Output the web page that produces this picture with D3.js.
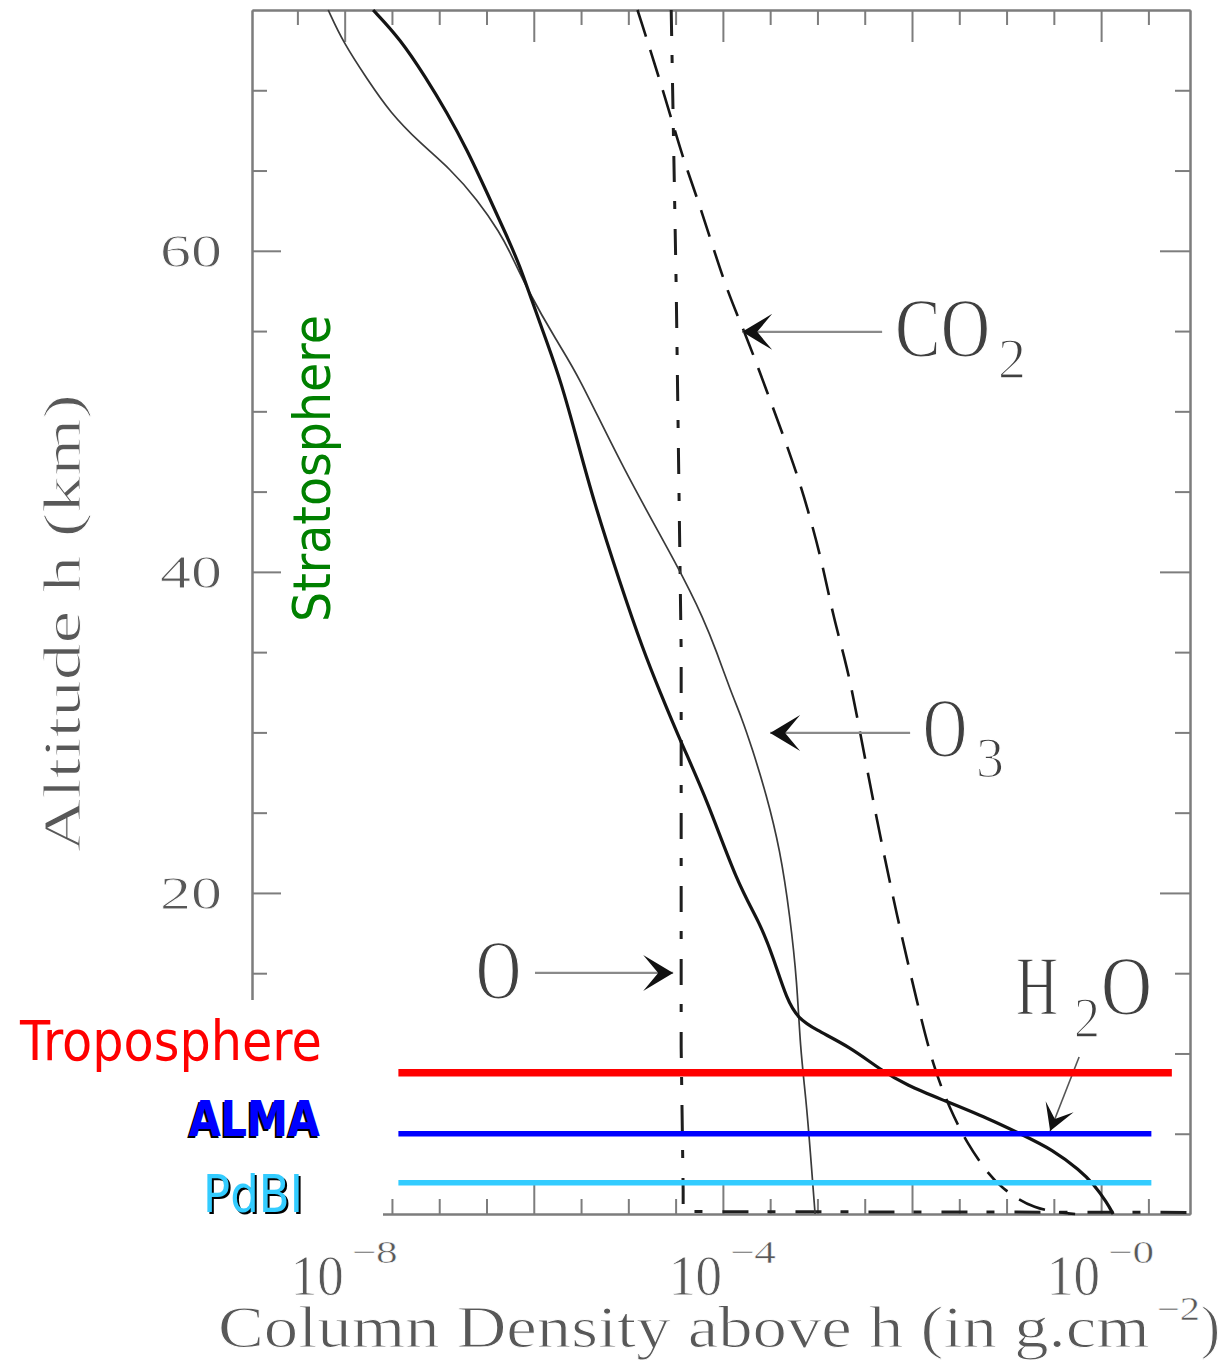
<!DOCTYPE html>
<html>
<head>
<meta charset="utf-8">
<script src="https://cdn.jsdelivr.net/npm/d3@7"></script>
<style>
  html, body { margin: 0; padding: 0; background: #ffffff; }
  svg { display: block; }
</style>
</head>
<body>
<svg id="chart" width="1224" height="1364"></svg>
<script>
// ---------------- DATA (altitude in km, column density above h in g.cm^-2) ----------------
const altH2O = [75.0, 73.2, 70.8, 68.6, 66.3, 63.6, 60.9, 59.0, 57.0, 54.3, 51.8, 48.2, 44.5, 39.3, 35.1, 32.5, 29.5, 25.8, 20.6, 18.1, 16.0, 13.3, 12.2, 11.5, 10.4, 9.0, 8.0, 7.1, 5.9, 5.0, 4.0, 2.7, 1.9, 0.7, 0];
const colH2O = [2.0e-8, 3.86e-8, 7.2e-8, 1.21e-7, 1.97e-7, 3.21e-7, 5.22e-7, 7.18e-7, 9.4e-7, 1.38e-6, 1.95e-6, 2.88e-6, 4.25e-6, 8.18e-6, 1.44e-5, 2.17e-5, 3.53e-5, 6.81e-5, 1.42e-4, 2.48e-4, 3.40e-4, 4.78e-4, 6.25e-4, 9.4e-4, 2.22e-3, 4.60e-3, 8.87e-3, 2.13e-2, 6.70e-2, 0.139, 0.310, 0.600, 0.822, 1.156, 1.34];

const altO3 = [75.0, 73.0, 70.7, 68.6, 66.7, 65.1, 63.2, 61.1, 59.9, 57.6, 54.3, 52.4, 46.4, 40.1, 37.0, 35.1, 32.5, 31.0, 29.0, 26.2, 22.7, 18.5, 14.4, 10.4, 7.1, 4.0, 0];
const colO3 = [6.7e-9, 9.6e-9, 1.73e-8, 3.03e-8, 6.3e-8, 1.31e-7, 2.52e-7, 4.41e-7, 5.62e-7, 8.51e-7, 1.77e-6, 2.88e-6, 8.81e-6, 3.53e-5, 6.33e-5, 8.49e-5, 1.22e-4, 1.56e-4, 2.04e-4, 2.86e-4, 4.03e-4, 5.14e-4, 6.10e-4, 6.56e-4, 7.59e-4, 8.38e-4, 9.44e-4];

const altCO2 = [75.0, 69.6, 65.7, 63.0, 57.6, 54.9, 50.7, 46.5, 43.4, 40.3, 37.2, 34.1, 31.0, 24.4, 18.5, 13.2, 9.2, 6.5, 4.4, 2.6, 1.7, 0.25, 0];
const colCO2 = [1.25e-5, 2.45e-5, 3.79e-5, 5.61e-5, 1.08e-4, 1.72e-4, 3.16e-4, 5.81e-4, 8.38e-4, 1.15e-3, 1.47e-3, 2.06e-3, 2.63e-3, 4.28e-3, 6.97e-3, 1.13e-2, 1.67e-2, 2.53e-2, 3.83e-2, 6.22e-2, 8.55e-2, 0.191, 0.531];

const altO = [75.0, 57.6, 35.1, 10.4, 1.5, 0.15, 0.1];
const colO = [2.84e-5, 3.21e-5, 3.62e-5, 3.62e-5, 3.80e-5, 3.80e-5, 8.7];

// reference altitudes (horizontal bars)
const refNames = ["Troposphere", "ALMA", "PdBI"];
const refAlt = [8.8, 5.0, 1.95];
const refFrom = [3.7e-8, 3.7e-8, 3.7e-8];
const refTo = [5.6, 3.4, 3.4];

// axis ticks
const xTickExponents = [-8, -4, 0];
const xTickSup = ["\u22128", "\u22124", "\u22120"];
const yTickValues = [20, 40, 60];

// annotation arrows (data coordinates)
const annotations = [
  { id: "CO2", tipH: 54.95, tipV: 1.60e-4, tailH: 54.95, tailV: 4.83e-3 },
  { id: "O3",  tipH: 29.97, tipV: 3.16e-4, tailH: 29.97, tailV: 9.55e-3 },
  { id: "O",   tipH: 15.02, tipV: 2.98e-5, tailH: 15.02, tailV: 1.03e-6 },
  { id: "H2O", tipH: 5.17,  tipV: 0.289,   tailH: 9.78,  tailV: 0.585 }
];

// ---------------- CHART ----------------
const svg = d3.select("#chart");
svg.append("rect").attr("width", 1224).attr("height", 1364).attr("fill", "#ffffff");

const x = d3.scaleLog().domain([Math.pow(10, -8.98), Math.pow(10, 0.94)]).range([252, 1190]);
const y = d3.scaleLinear().domain([0, 75]).range([1214, 10]);

const axisColor = "#7d7d7d";
const serif = "'Liberation Serif', 'DejaVu Serif', serif";
const sans = "'DejaVu Sans', 'Liberation Sans', sans-serif";

function styleAxis(g) {
  g.selectAll("path, line").attr("stroke", axisColor).attr("stroke-width", 2);
  g.selectAll("text").remove();
}

const halfSteps = d3.range(-17, 2); // exponents in half-decades
const xMinor = halfSteps.filter(k => k % 4 !== 0).map(k => Math.pow(10, k / 2));
const xMajor = halfSteps.filter(k => k % 4 === 0).map(k => Math.pow(10, k / 2));
const yMinor = d3.range(5, 75, 5).filter(v => v % 20 !== 0);
const yMajor = yTickValues;

const axes = svg.append("g");
axes.append("g").attr("transform", `translate(0,${y(75)})`)
  .call(d3.axisBottom(x).tickValues(xMinor).tickSizeInner(15).tickSizeOuter(0).tickFormat("")).call(styleAxis);
axes.append("g").attr("transform", `translate(0,${y(75)})`)
  .call(d3.axisBottom(x).tickValues(xMajor).tickSizeInner(32).tickSizeOuter(0).tickFormat("")).call(styleAxis);
axes.append("g").attr("transform", `translate(0,${y(0)})`)
  .call(d3.axisTop(x).tickValues(xMinor).tickSizeInner(15).tickSizeOuter(0).tickFormat("")).call(styleAxis);
axes.append("g").attr("transform", `translate(0,${y(0)})`)
  .call(d3.axisTop(x).tickValues(xMajor).tickSizeInner(30).tickSizeOuter(0).tickFormat("")).call(styleAxis);
axes.append("g").attr("transform", `translate(${x.range()[0]},0)`)
  .call(d3.axisRight(y).tickValues(yMinor).tickSizeInner(15).tickSizeOuter(0).tickFormat("")).call(styleAxis);
axes.append("g").attr("transform", `translate(${x.range()[0]},0)`)
  .call(d3.axisRight(y).tickValues(yMajor).tickSizeInner(29).tickSizeOuter(0).tickFormat("")).call(styleAxis);
axes.append("g").attr("transform", `translate(${x.range()[1]},0)`)
  .call(d3.axisLeft(y).tickValues(yMinor).tickSizeInner(15).tickSizeOuter(0).tickFormat("")).call(styleAxis);
axes.append("g").attr("transform", `translate(${x.range()[1]},0)`)
  .call(d3.axisLeft(y).tickValues(yMajor).tickSizeInner(30).tickSizeOuter(0).tickFormat("")).call(styleAxis);

// text helper: natural text horizontally scaled to a given width
function txt(parent, s, px, py, size, len, opts = {}) {
  const g = parent.append("g");
  const t = g.append("text")
    .attr("x", 0).attr("y", 0)
    .attr("font-family", opts.family || serif)
    .attr("font-size", size)
    .attr("font-weight", opts.weight || "normal")
    .attr("fill", opts.fill || "#4a4a4a")
    .text(s);
  if (opts.thin) t.attr("stroke", "#ffffff").attr("stroke-width", opts.thin);
  const natural = t.node().getComputedTextLength();
  const sx = len ? len / natural : 1;
  const w = natural * sx;
  const ox = opts.anchor === "end" ? -w : 0;
  const pre = opts.rotate ? `translate(${px},${py}) rotate(${opts.rotate})` : `translate(${px},${py})`;
  g.attr("transform", `${pre} translate(${ox},0) scale(${sx},1)`);
  return g;
}

const axisText = "#585858";
const labels = svg.append("g");
yTickValues.forEach(v => {
  txt(labels, String(v), 222, y(v) + 16, 47, 62, { anchor: "end", fill: axisText, thin: 0.8 });
});
xTickExponents.forEach((e, i) => {
  const px = x(Math.pow(10, e));
  txt(labels, "10", px - 54, 1295, 56, 53, { fill: axisText, thin: 0.8 });
  txt(labels, xTickSup[i], px + 7, 1263, 32, 46, { fill: axisText, thin: 0.5 });
});
txt(labels, "Column Density above h (in g.cm", 218, 1347, 59, 932, { fill: axisText, thin: 1 });
txt(labels, "\u22122", 1157, 1320, 33, 43, { fill: axisText, thin: 0.5 });
txt(labels, ")", 1201, 1347, 59, 19, { fill: axisText, thin: 1 });
txt(labels, "Altitude h (km)", 80, 852, 52, 458, { fill: axisText, rotate: -90, thin: 1 });

// curves
const toPts = (alt, col) => alt.map((h, i) => ({ h, v: col[i] }));
const lineGen = d3.line().x(d => x(d.v)).y(d => y(d.h)).curve(d3.curveBasis);
const lineLin = d3.line().x(d => x(d.v)).y(d => y(d.h));

const curves = svg.append("g").attr("fill", "none").attr("stroke-linejoin", "round");
curves.append("path").attr("d", lineLin(toPts(altO, colO)))
  .attr("stroke", "#1e1e1e").attr("stroke-width", 3).attr("stroke-dasharray", "26,19,8,20");
curves.append("path").attr("d", lineGen(toPts(altCO2, colCO2)))
  .attr("stroke", "#151515").attr("stroke-width", 2.6).attr("stroke-dasharray", "28,14");
curves.append("path").attr("d", lineGen(toPts(altO3, colO3)))
  .attr("stroke", "#3a3a3a").attr("stroke-width", 1.7);
curves.append("path").attr("d", lineGen(toPts(altH2O, colH2O)))
  .attr("stroke", "#141414").attr("stroke-width", 3.2);

// annotations
function arrowHead(tx, ty, fx, fy, L, W) {
  const dx = tx - fx, dy = ty - fy, len = Math.hypot(dx, dy);
  const ux = dx / len, uy = dy / len, px = -uy, py = ux;
  const bx = tx - ux * L, by = ty - uy * L;
  const nx = tx - ux * L * 0.5, ny = ty - uy * L * 0.5;
  return `M${tx},${ty}L${bx + px * W},${by + py * W}L${nx},${ny}L${bx - px * W},${by - py * W}Z`;
}
const ann = svg.append("g");
const labelFill = "#404040";
const lo = { fill: labelFill, thin: 1.4 };
annotations.forEach(a => {
  const tx = x(a.tipV), ty = y(a.tipH), fx = x(a.tailV), fy = y(a.tailH);
  const thin = a.id === "H2O";
  ann.append("line").attr("x1", fx).attr("y1", fy).attr("x2", tx).attr("y2", ty)
    .attr("stroke", thin ? "#555" : "#8a8a8a").attr("stroke-width", thin ? 1.6 : 2.2);
  ann.append("path").attr("d", arrowHead(tx, ty, fx, fy, thin ? 26 : 30, thin ? 15 : 18)).attr("fill", "#111");
  if (a.id === "CO2") {
    txt(ann, "CO", fx + 13, fy + 25, 84, 95, lo);
    txt(ann, "2", fx + 116, fy + 46, 58, 28, lo);
  } else if (a.id === "O3") {
    txt(ann, "O", fx + 13, fy + 24, 84, 44, lo);
    txt(ann, "3", fx + 66, fy + 44, 58, 28, lo);
  } else if (a.id === "O") {
    txt(ann, "O", fx - 59, fy + 26, 84, 45, lo);
  } else if (a.id === "H2O") {
    txt(ann, "H", fx - 63, fy - 42, 84, 42, lo);
    txt(ann, "2", fx - 5, fy - 20, 58, 26, lo);
    txt(ann, "O", fx + 22, fy - 42, 84, 51, lo);
  }
});

// overlay region (white box over lower-left)
svg.append("rect").attr("x", 0).attr("y", 1000).attr("width", 383).attr("height", 242).attr("fill", "#ffffff");

// stratosphere label
txt(svg, "Stratosphere", 330, 622, 52, 307, { family: sans, fill: "#008000", rotate: -90 });

// reference bars
const refColors = ["#ff0000", "#0000ff", "#33ccff"];
const refWidths = [7.5, 5.5, 5.5];
const refs = svg.append("g");
refNames.forEach((n, i) => {
  refs.append("line")
    .attr("x1", x(refFrom[i])).attr("x2", x(refTo[i]))
    .attr("y1", y(refAlt[i])).attr("y2", y(refAlt[i]))
    .attr("stroke", refColors[i]).attr("stroke-width", refWidths[i]);
});
txt(refs, refNames[0], 20, y(refAlt[0]) - 13, 55, 302, { family: sans, fill: refColors[0] });
txt(refs, refNames[1], 187, y(refAlt[1]) + 4, 50, 131, { family: sans, weight: "bold", fill: "#000" });
txt(refs, refNames[1], 189, y(refAlt[1]) + 2, 50, 131, { family: sans, weight: "bold", fill: refColors[1] });
txt(refs, refNames[2], 205, y(refAlt[2]) + 31, 52, 100, { family: sans, fill: "#000" });
txt(refs, refNames[2], 203, y(refAlt[2]) + 29, 52, 100, { family: sans, fill: refColors[2] });
</script>
</body>
</html>
